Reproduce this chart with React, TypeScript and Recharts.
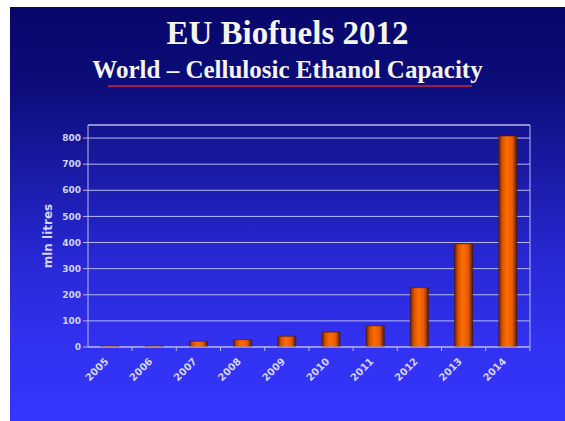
import {
  BarChart,
  Bar,
  XAxis,
  YAxis,
  CartesianGrid,
  ReferenceLine,
} from 'recharts';

const years = ['2005', '2006', '2007', '2008', '2009', '2010', '2011', '2012', '2013', '2014'];
const capacity = [5, 5, 22, 28, 41, 57, 81, 227, 395, 808];
const yTicks = [0, 100, 200, 300, 400, 500, 600, 700, 800];

const data = years.map((year, i) => ({ year, capacity: capacity[i] }));

const gridColor = '#b8b8f4';
const labelColor = '#d4d4ff';
const sans = '"DejaVu Sans", Verdana, sans-serif';

function YearTick({ x, y, payload }: any) {
  return (
    <g>
      <line x1={x + 22} y1={y - 8} x2={x + 22} y2={y - 4} stroke={gridColor} />
      <text
        x={x - 1}
        y={y + 7}
        textAnchor="end"
        fill={labelColor}
        fontSize={10}
        fontWeight="bold"
        fontFamily={sans}
        transform={`rotate(-45 ${x - 1} ${y + 7})`}
      >
        {payload.value}
      </text>
    </g>
  );
}

export default function App() {
  return (
    <div style={{ position: 'absolute', left: 0, top: 0, width: 565, height: 421, background: '#fff' }}>
      <div
        style={{
          position: 'absolute',
          left: 10,
          top: 7,
          width: 555,
          height: 414,
          background:
            'linear-gradient(to bottom, #06066a 0%, #0d0d7c 20%, #1a1aa6 40%, #2727d2 60%, #3131ef 80%, #3636ff 100%)',
        }}
      />
      <div
        style={{
          position: 'absolute',
          left: 10,
          width: 555,
          top: 14,
          textAlign: 'center',
          color: '#f4f4f4',
          fontFamily: '"Liberation Serif", "Times New Roman", serif',
          fontWeight: 'bold',
          fontSize: 33,
          lineHeight: '38px',
        }}
      >
        EU Biofuels 2012
      </div>
      <div
        style={{
          position: 'absolute',
          left: 10,
          width: 555,
          top: 56,
          textAlign: 'center',
          color: '#f4f4f4',
          fontFamily: '"Liberation Serif", "Times New Roman", serif',
          fontWeight: 'bold',
          fontSize: 25,
          lineHeight: '28px',
        }}
      >
        World – Cellulosic Ethanol Capacity
      </div>
      <div style={{ position: 'absolute', left: 108, top: 85, width: 364, height: 2, background: '#a01e4c' }} />
      <div
        style={{
          position: 'absolute',
          left: 48,
          top: 236,
          transform: 'translate(-50%, -50%) rotate(-90deg)',
          color: labelColor,
          fontFamily: sans,
          fontWeight: 'bold',
          fontSize: 12,
          whiteSpace: 'nowrap',
        }}
      >
        mln litres
      </div>
      <BarChart
        width={565}
        height={421}
        data={data}
        margin={{ top: 125, right: 35, bottom: 34, left: 28 }}
        style={{ position: 'absolute', left: 0, top: 0 }}
      >
        <CartesianGrid
          stroke={gridColor}
          verticalCoordinatesGenerator={({ offset }: any) => [offset.left + offset.width]}
        />
        <ReferenceLine y={850} stroke={gridColor} />
        <XAxis
          dataKey="year"
          height={40}
          axisLine={{ stroke: gridColor }}
          tickLine={false}
          interval={0}
          tick={<YearTick />}
        />
        <YAxis
          width={60}
          domain={[0, 850]}
          ticks={yTicks}
          axisLine={{ stroke: gridColor }}
          tickLine={{ stroke: gridColor }}
          tickSize={5}
          tick={{ fill: labelColor, fontSize: 9, fontWeight: 'bold', fontFamily: sans }}
        />
        <defs>
          <linearGradient id="barFill" x1="0" y1="0" x2="1" y2="0">
            <stop offset="0%" stopColor="#6a2200" />
            <stop offset="20%" stopColor="#d85400" />
            <stop offset="45%" stopColor="#ff6c00" />
            <stop offset="75%" stopColor="#e85c00" />
            <stop offset="100%" stopColor="#5a1c00" />
          </linearGradient>
        </defs>
        <Bar
          dataKey="capacity"
          barSize={18}
          fill="url(#barFill)"
          stroke="#4a1600"
          strokeWidth={0.6}
          isAnimationActive={false}
        />
      </BarChart>
    </div>
  );
}
